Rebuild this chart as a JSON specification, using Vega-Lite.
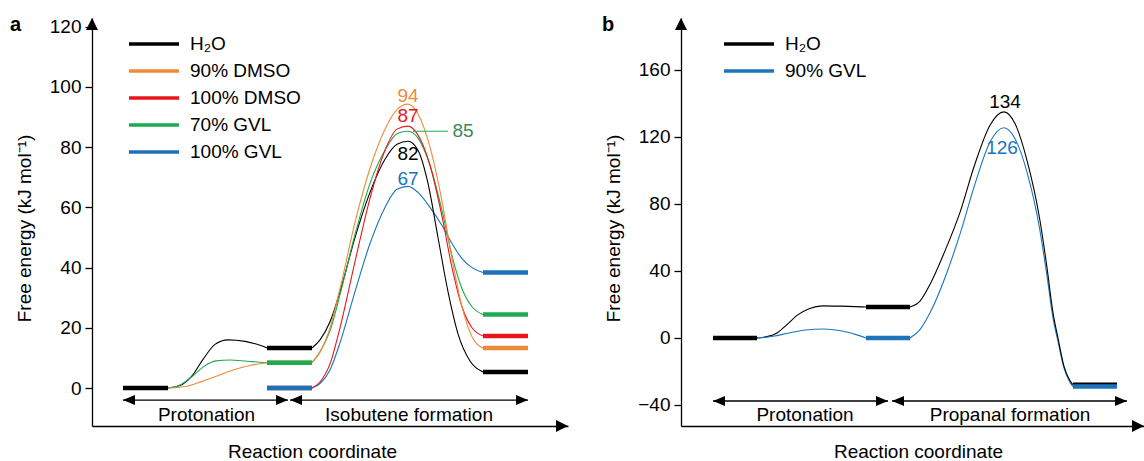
{
  "$schema": "https://vega.github.io/schema/vega-lite/v6.json",
  "padding": {"left": 10, "top": 14, "right": 0, "bottom": 0},
  "background": "white",
  "bounds": "flush",
  "spacing": 113,
  "config": {
    "font": "Liberation Sans",
    "view": {"stroke": null},
    "axis": {"domainColor": "black", "domainWidth": 1.3, "tickColor": "black", "tickWidth": 1.3, "labelColor": "black", "labelFontSize": 19, "labelFont": "Liberation Sans", "titleFont": "Liberation Sans", "titleFontSize": 19, "titleFontWeight": "normal", "titleColor": "black", "grid": false},
    "legend": {"orient": "none", "symbolType": "stroke", "symbolSize": 2500, "symbolStrokeWidth": 3.5, "labelFontSize": 19, "labelFont": "Liberation Sans", "labelColor": "black", "rowPadding": 7, "labelOffset": 9, "padding": 0, "clipHeight": 19},
    "text": {"font": "Liberation Sans", "fontSize": 19}
  },
  "datasets": {
    "curves_a": [
      {"series": "H₂O", "seg": "p", "x": 76, "y": 0}, {"series": "H₂O", "seg": "p", "x": 88, "y": 0.8}, {"series": "H₂O", "seg": "p", "x": 100, "y": 4}, {"series": "H₂O", "seg": "p", "x": 111, "y": 9.5}, {"series": "H₂O", "seg": "p", "x": 123, "y": 14.5}, {"series": "H₂O", "seg": "p", "x": 136, "y": 16}, {"series": "H₂O", "seg": "p", "x": 153, "y": 15.5}, {"series": "H₂O", "seg": "p", "x": 168, "y": 14.2}, {"series": "H₂O", "seg": "p", "x": 175, "y": 13.3},
      {"series": "70% GVL", "seg": "p", "x": 76, "y": 0}, {"series": "70% GVL", "seg": "p", "x": 88, "y": 1}, {"series": "70% GVL", "seg": "p", "x": 100, "y": 3.8}, {"series": "70% GVL", "seg": "p", "x": 112, "y": 7.2}, {"series": "70% GVL", "seg": "p", "x": 124, "y": 9}, {"series": "70% GVL", "seg": "p", "x": 138, "y": 9.3}, {"series": "70% GVL", "seg": "p", "x": 155, "y": 8.9}, {"series": "70% GVL", "seg": "p", "x": 175, "y": 8.4},
      {"series": "90% DMSO", "seg": "p", "x": 76, "y": 0}, {"series": "90% DMSO", "seg": "p", "x": 95, "y": 0.6}, {"series": "90% DMSO", "seg": "p", "x": 110, "y": 2.2}, {"series": "90% DMSO", "seg": "p", "x": 125, "y": 4}, {"series": "90% DMSO", "seg": "p", "x": 141, "y": 6}, {"series": "90% DMSO", "seg": "p", "x": 158, "y": 7.5}, {"series": "90% DMSO", "seg": "p", "x": 175, "y": 8.4},
      {"series": "100% GVL", "seg": "i", "x": 220, "y": 0}, {"series": "100% GVL", "seg": "i", "x": 228, "y": 1.5}, {"series": "100% GVL", "seg": "i", "x": 238, "y": 6}, {"series": "100% GVL", "seg": "i", "x": 248, "y": 15}, {"series": "100% GVL", "seg": "i", "x": 263, "y": 32}, {"series": "100% GVL", "seg": "i", "x": 278, "y": 48}, {"series": "100% GVL", "seg": "i", "x": 293, "y": 60}, {"series": "100% GVL", "seg": "i", "x": 305, "y": 66}, {"series": "100% GVL", "seg": "i", "x": 316, "y": 67}, {"series": "100% GVL", "seg": "i", "x": 326, "y": 65}, {"series": "100% GVL", "seg": "i", "x": 338, "y": 60}, {"series": "100% GVL", "seg": "i", "x": 350, "y": 54}, {"series": "100% GVL", "seg": "i", "x": 360, "y": 48}, {"series": "100% GVL", "seg": "i", "x": 370, "y": 43}, {"series": "100% GVL", "seg": "i", "x": 380, "y": 40}, {"series": "100% GVL", "seg": "i", "x": 391, "y": 38.4},
      {"series": "H₂O", "seg": "i", "x": 220, "y": 13.3}, {"series": "H₂O", "seg": "i", "x": 228, "y": 16}, {"series": "H₂O", "seg": "i", "x": 238, "y": 22}, {"series": "H₂O", "seg": "i", "x": 248, "y": 32}, {"series": "H₂O", "seg": "i", "x": 263, "y": 50}, {"series": "H₂O", "seg": "i", "x": 278, "y": 65}, {"series": "H₂O", "seg": "i", "x": 293, "y": 76}, {"series": "H₂O", "seg": "i", "x": 305, "y": 81}, {"series": "H₂O", "seg": "i", "x": 316, "y": 82}, {"series": "H₂O", "seg": "i", "x": 326, "y": 79}, {"series": "H₂O", "seg": "i", "x": 336, "y": 68}, {"series": "H₂O", "seg": "i", "x": 346, "y": 50}, {"series": "H₂O", "seg": "i", "x": 356, "y": 32}, {"series": "H₂O", "seg": "i", "x": 366, "y": 18}, {"series": "H₂O", "seg": "i", "x": 378, "y": 9}, {"series": "H₂O", "seg": "i", "x": 391, "y": 5.3},
      {"series": "70% GVL", "seg": "i", "x": 220, "y": 8.4}, {"series": "70% GVL", "seg": "i", "x": 228, "y": 12}, {"series": "70% GVL", "seg": "i", "x": 238, "y": 19}, {"series": "70% GVL", "seg": "i", "x": 248, "y": 31}, {"series": "70% GVL", "seg": "i", "x": 263, "y": 51}, {"series": "70% GVL", "seg": "i", "x": 278, "y": 68}, {"series": "70% GVL", "seg": "i", "x": 293, "y": 79}, {"series": "70% GVL", "seg": "i", "x": 305, "y": 84.5}, {"series": "70% GVL", "seg": "i", "x": 316, "y": 85.3}, {"series": "70% GVL", "seg": "i", "x": 326, "y": 83}, {"series": "70% GVL", "seg": "i", "x": 338, "y": 74}, {"series": "70% GVL", "seg": "i", "x": 350, "y": 59}, {"series": "70% GVL", "seg": "i", "x": 360, "y": 44}, {"series": "70% GVL", "seg": "i", "x": 370, "y": 33}, {"series": "70% GVL", "seg": "i", "x": 380, "y": 27}, {"series": "70% GVL", "seg": "i", "x": 391, "y": 24.4},
      {"series": "100% DMSO", "seg": "i", "x": 220, "y": 0}, {"series": "100% DMSO", "seg": "i", "x": 228, "y": 2}, {"series": "100% DMSO", "seg": "i", "x": 238, "y": 8}, {"series": "100% DMSO", "seg": "i", "x": 248, "y": 20}, {"series": "100% DMSO", "seg": "i", "x": 263, "y": 42}, {"series": "100% DMSO", "seg": "i", "x": 278, "y": 63}, {"series": "100% DMSO", "seg": "i", "x": 293, "y": 79}, {"series": "100% DMSO", "seg": "i", "x": 305, "y": 86}, {"series": "100% DMSO", "seg": "i", "x": 316, "y": 87}, {"series": "100% DMSO", "seg": "i", "x": 326, "y": 84}, {"series": "100% DMSO", "seg": "i", "x": 338, "y": 74}, {"series": "100% DMSO", "seg": "i", "x": 350, "y": 57}, {"series": "100% DMSO", "seg": "i", "x": 360, "y": 40}, {"series": "100% DMSO", "seg": "i", "x": 370, "y": 27}, {"series": "100% DMSO", "seg": "i", "x": 380, "y": 20}, {"series": "100% DMSO", "seg": "i", "x": 391, "y": 17.3},
      {"series": "90% DMSO", "seg": "i", "x": 220, "y": 8.4}, {"series": "90% DMSO", "seg": "i", "x": 228, "y": 12}, {"series": "90% DMSO", "seg": "i", "x": 238, "y": 20}, {"series": "90% DMSO", "seg": "i", "x": 248, "y": 33}, {"series": "90% DMSO", "seg": "i", "x": 263, "y": 55}, {"series": "90% DMSO", "seg": "i", "x": 278, "y": 73}, {"series": "90% DMSO", "seg": "i", "x": 293, "y": 86}, {"series": "90% DMSO", "seg": "i", "x": 305, "y": 92.5}, {"series": "90% DMSO", "seg": "i", "x": 316, "y": 94.3}, {"series": "90% DMSO", "seg": "i", "x": 326, "y": 91}, {"series": "90% DMSO", "seg": "i", "x": 338, "y": 80}, {"series": "90% DMSO", "seg": "i", "x": 350, "y": 62}, {"series": "90% DMSO", "seg": "i", "x": 360, "y": 43}, {"series": "90% DMSO", "seg": "i", "x": 370, "y": 27}, {"series": "90% DMSO", "seg": "i", "x": 380, "y": 17}, {"series": "90% DMSO", "seg": "i", "x": 391, "y": 13.3}
    ],
    "bars_a": [
      {"series": "H₂O", "x": 31, "x2": 76, "y": 0},
      {"series": "100% DMSO", "x": 175, "x2": 220, "y": 0},
      {"series": "100% GVL", "x": 175, "x2": 220, "y": 0},
      {"series": "90% DMSO", "x": 175, "x2": 220, "y": 8.4},
      {"series": "70% GVL", "x": 175, "x2": 220, "y": 8.4},
      {"series": "H₂O", "x": 175, "x2": 220, "y": 13.3},
      {"series": "H₂O", "x": 391, "x2": 436, "y": 5.3},
      {"series": "90% DMSO", "x": 391, "x2": 436, "y": 13.3},
      {"series": "100% DMSO", "x": 391, "x2": 436, "y": 17.3},
      {"series": "70% GVL", "x": 391, "x2": 436, "y": 24.4},
      {"series": "100% GVL", "x": 391, "x2": 436, "y": 38.4}
    ],
    "leader_a": [{"series": "70% GVL", "x": 321, "x2": 356, "y": 85.3}],
    "labels_a": [
      {"series": "90% DMSO", "x": 316, "y": 96.9, "text": "94"},
      {"series": "100% DMSO", "x": 316, "y": 90.3, "text": "87"},
      {"series": "70% GVL", "x": 371, "y": 85.3, "text": "85"},
      {"series": "H₂O", "x": 316, "y": 77.6, "text": "82"},
      {"series": "100% GVL", "x": 316, "y": 69.5, "text": "67"}
    ],
    "arrows_a": [{"x": 31, "x2": 196, "y": -4}, {"x": 198, "x2": 436, "y": -4}],
    "heads_a": [
      {"x": 31, "y": -4, "dir": "left"}, {"x": 198, "y": -4, "dir": "left"},
      {"x": 196, "y": -4, "dir": "right"}, {"x": 436, "y": -4, "dir": "right"},
      {"x": 476, "y": -12.62, "dir": "axisright"}, {"x": 0, "y": 122.92, "dir": "up"}
    ],
    "arrowlabels_a": [{"x": 114.5, "y": -10.96, "text": "Protonation"}, {"x": 317, "y": -10.96, "text": "Isobutene formation"}],
    "curves_b": [
      {"series": "H₂O", "seg": "p", "x": 76, "y": 0}, {"series": "H₂O", "seg": "p", "x": 86, "y": 0.8}, {"series": "H₂O", "seg": "p", "x": 96, "y": 3}, {"series": "H₂O", "seg": "p", "x": 106, "y": 8}, {"series": "H₂O", "seg": "p", "x": 116, "y": 13.5}, {"series": "H₂O", "seg": "p", "x": 128, "y": 17.5}, {"series": "H₂O", "seg": "p", "x": 142, "y": 19.2}, {"series": "H₂O", "seg": "p", "x": 160, "y": 19}, {"series": "H₂O", "seg": "p", "x": 185, "y": 18.5},
      {"series": "90% GVL", "seg": "p", "x": 76, "y": 0}, {"series": "90% GVL", "seg": "p", "x": 92, "y": 1}, {"series": "90% GVL", "seg": "p", "x": 108, "y": 3}, {"series": "90% GVL", "seg": "p", "x": 125, "y": 4.8}, {"series": "90% GVL", "seg": "p", "x": 142, "y": 5.4}, {"series": "90% GVL", "seg": "p", "x": 160, "y": 4.3}, {"series": "90% GVL", "seg": "p", "x": 175, "y": 2}, {"series": "90% GVL", "seg": "p", "x": 185, "y": 0},
      {"series": "90% GVL", "seg": "f", "x": 229, "y": 0}, {"series": "90% GVL", "seg": "f", "x": 239, "y": 5}, {"series": "90% GVL", "seg": "f", "x": 249, "y": 15}, {"series": "90% GVL", "seg": "f", "x": 264, "y": 36}, {"series": "90% GVL", "seg": "f", "x": 279, "y": 62}, {"series": "90% GVL", "seg": "f", "x": 294, "y": 92}, {"series": "90% GVL", "seg": "f", "x": 309, "y": 117}, {"series": "90% GVL", "seg": "f", "x": 323, "y": 125.5}, {"series": "90% GVL", "seg": "f", "x": 334, "y": 119}, {"series": "90% GVL", "seg": "f", "x": 346, "y": 99}, {"series": "90% GVL", "seg": "f", "x": 359, "y": 64}, {"series": "90% GVL", "seg": "f", "x": 366, "y": 37}, {"series": "90% GVL", "seg": "f", "x": 372, "y": 12}, {"series": "90% GVL", "seg": "f", "x": 377, "y": -2}, {"series": "90% GVL", "seg": "f", "x": 383, "y": -18}, {"series": "90% GVL", "seg": "f", "x": 389, "y": -26.5}, {"series": "90% GVL", "seg": "f", "x": 392, "y": -29},
      {"series": "H₂O", "seg": "f", "x": 229, "y": 18.5}, {"series": "H₂O", "seg": "f", "x": 239, "y": 22}, {"series": "H₂O", "seg": "f", "x": 249, "y": 32}, {"series": "H₂O", "seg": "f", "x": 264, "y": 52}, {"series": "H₂O", "seg": "f", "x": 279, "y": 75}, {"series": "H₂O", "seg": "f", "x": 294, "y": 104}, {"series": "H₂O", "seg": "f", "x": 309, "y": 127}, {"series": "H₂O", "seg": "f", "x": 323, "y": 135}, {"series": "H₂O", "seg": "f", "x": 334, "y": 128}, {"series": "H₂O", "seg": "f", "x": 346, "y": 106}, {"series": "H₂O", "seg": "f", "x": 359, "y": 70}, {"series": "H₂O", "seg": "f", "x": 366, "y": 42}, {"series": "H₂O", "seg": "f", "x": 372, "y": 15}, {"series": "H₂O", "seg": "f", "x": 377, "y": 0}, {"series": "H₂O", "seg": "f", "x": 383, "y": -17}, {"series": "H₂O", "seg": "f", "x": 389, "y": -25.5}, {"series": "H₂O", "seg": "f", "x": 392, "y": -27.9}
    ],
    "bars_b": [
      {"series": "H₂O", "x": 32, "x2": 76, "y": 0},
      {"series": "90% GVL", "x": 185, "x2": 229, "y": 0},
      {"series": "H₂O", "x": 185, "x2": 229, "y": 18.5},
      {"series": "H₂O", "x": 392, "x2": 436, "y": -27.9},
      {"series": "90% GVL", "x": 392, "x2": 436, "y": -29}
    ],
    "labels_b": [
      {"series": "H₂O", "x": 324, "y": 141, "text": "134"},
      {"series": "90% GVL", "x": 321, "y": 113.3, "text": "126"}
    ],
    "arrows_b": [{"x": 32, "x2": 207, "y": -37.6}, {"x": 211, "x2": 446, "y": -37.6}],
    "heads_b": [
      {"x": 32, "y": -37.6, "dir": "left"}, {"x": 211, "y": -37.6, "dir": "left"},
      {"x": 207, "y": -37.6, "dir": "right"}, {"x": 446, "y": -37.6, "dir": "right"},
      {"x": 463, "y": -52.54, "dir": "axisright"}, {"x": 0, "y": 191.04, "dir": "up"}
    ],
    "arrowlabels_b": [{"x": 124, "y": -49.6, "text": "Protonation"}, {"x": 329, "y": -49.6, "text": "Propanal formation"}]
  },
  "resolve": {"scale": {"color": "independent", "shape": "independent"}},
  "hconcat": [
    {
      "width": 476,
      "height": 408,
      "title": {"text": "a", "anchor": "start", "frame": "group", "dx": -82, "dy": 33, "offset": 0, "fontSize": 20, "fontWeight": "bold", "font": "Liberation Sans", "baseline": "alphabetic", "color": "black"},
      "encoding": {
        "x": {"field": "x", "type": "quantitative", "scale": {"domain": [0, 476], "nice": false, "zero": false}, "axis": {"ticks": false, "labels": false, "title": "Reaction coordinate", "titleX": 220, "titleY": 31, "titleBaseline": "alphabetic", "titleAlign": "center"}},
        "y": {"field": "y", "type": "quantitative", "scale": {"domain": [-12.62, 122.92], "nice": false, "zero": false}, "axis": {"values": [0, 20, 40, 60, 80, 100, 120], "title": "Free energy (kJ mol⁻¹)", "tickSize": 7, "labelPadding": 4, "titleX": -58, "titleY": 210}}
      },
      "layer": [
        {
          "data": {"name": "curves_a"},
          "mark": {"type": "line", "interpolate": "monotone", "strokeWidth": 1.1},
          "encoding": {
            "color": {"field": "series", "type": "nominal", "scale": {"domain": ["H₂O", "90% DMSO", "100% DMSO", "70% GVL", "100% GVL"], "range": ["#000000", "#EF8A3A", "#E8161C", "#1DAA52", "#1C72BA"]}, "legend": {"title": null, "legendX": 35, "legendY": 16.5, "symbolType": "stroke"}},
            "detail": {"field": "seg"}
          }
        },
        {
          "data": {"name": "bars_a"},
          "mark": {"type": "rule", "strokeWidth": 4.5, "strokeCap": "butt"},
          "encoding": {"x2": {"field": "x2"}, "color": {"field": "series", "type": "nominal", "legend": null}}
        },
        {
          "data": {"name": "leader_a"},
          "mark": {"type": "rule", "strokeWidth": 1},
          "encoding": {"x2": {"field": "x2"}, "color": {"field": "series", "type": "nominal", "legend": null}}
        },
        {
          "data": {"name": "labels_a"},
          "mark": {"type": "text", "align": "center", "baseline": "middle", "fontSize": 19},
          "encoding": {"text": {"field": "text"}, "color": {"condition": {"test": "datum.text === '85'", "value": "#3A8A5C"}, "field": "series", "type": "nominal", "legend": null}}
        },
        {
          "data": {"name": "arrows_a"},
          "mark": {"type": "rule", "strokeWidth": 1.3, "color": "black"},
          "encoding": {"x2": {"field": "x2"}}
        },
        {
          "data": {"name": "heads_a"},
          "mark": {"type": "point", "filled": true, "color": "black", "opacity": 1, "size": 196, "strokeWidth": 0},
          "encoding": {"shape": {"field": "dir", "type": "nominal", "scale": {"domain": ["left", "right", "axisright", "up"], "range": ["M0,0L1.71,-0.71L1.71,0.71Z", "M0,0L-1.71,-0.71L-1.71,0.71Z", "M0,0L-1.71,-0.86L-1.71,0.86Z", "M0,0L0.86,1.71L-0.86,1.71Z"]}, "legend": null}}
        },
        {
          "data": {"name": "arrowlabels_a"},
          "mark": {"type": "text", "align": "center", "baseline": "alphabetic", "fontSize": 19, "color": "black"},
          "encoding": {"text": {"field": "text"}}
        }
      ]
    },
    {
      "width": 463,
      "height": 408,
      "title": {"text": "b", "anchor": "start", "frame": "group", "dx": -79, "dy": 33, "offset": 0, "fontSize": 20, "fontWeight": "bold", "font": "Liberation Sans", "baseline": "alphabetic", "color": "black"},
      "encoding": {
        "x": {"field": "x", "type": "quantitative", "scale": {"domain": [0, 463], "nice": false, "zero": false}, "axis": {"ticks": false, "labels": false, "title": "Reaction coordinate", "titleX": 237, "titleY": 31, "titleBaseline": "alphabetic", "titleAlign": "center"}},
        "y": {"field": "y", "type": "quantitative", "scale": {"domain": [-52.54, 191.04], "nice": false, "zero": false}, "axis": {"values": [-40, 0, 40, 80, 120, 160], "title": "Free energy (kJ mol⁻¹)", "tickSize": 7, "labelPadding": 4, "titleX": -58, "titleY": 210}}
      },
      "layer": [
        {
          "data": {"name": "curves_b"},
          "mark": {"type": "line", "interpolate": "monotone", "strokeWidth": 1.1},
          "encoding": {
            "color": {"field": "series", "type": "nominal", "scale": {"domain": ["H₂O", "90% GVL"], "range": ["#000000", "#1C75BC"]}, "legend": {"title": null, "legendX": 41, "legendY": 16.5, "symbolType": "stroke"}},
            "detail": {"field": "seg"}
          }
        },
        {
          "data": {"name": "bars_b"},
          "mark": {"type": "rule", "strokeWidth": 4.5, "strokeCap": "butt"},
          "encoding": {"x2": {"field": "x2"}, "color": {"field": "series", "type": "nominal", "legend": null}}
        },
        {
          "data": {"name": "labels_b"},
          "mark": {"type": "text", "align": "center", "baseline": "middle", "fontSize": 19},
          "encoding": {"text": {"field": "text"}, "color": {"field": "series", "type": "nominal", "legend": null}}
        },
        {
          "data": {"name": "arrows_b"},
          "mark": {"type": "rule", "strokeWidth": 1.3, "color": "black"},
          "encoding": {"x2": {"field": "x2"}}
        },
        {
          "data": {"name": "heads_b"},
          "mark": {"type": "point", "filled": true, "color": "black", "opacity": 1, "size": 196, "strokeWidth": 0},
          "encoding": {"shape": {"field": "dir", "type": "nominal", "scale": {"domain": ["left", "right", "axisright", "up"], "range": ["M0,0L1.71,-0.71L1.71,0.71Z", "M0,0L-1.71,-0.71L-1.71,0.71Z", "M0,0L-1.71,-0.86L-1.71,0.86Z", "M0,0L0.86,1.71L-0.86,1.71Z"]}, "legend": null}}
        },
        {
          "data": {"name": "arrowlabels_b"},
          "mark": {"type": "text", "align": "center", "baseline": "alphabetic", "fontSize": 19, "color": "black"},
          "encoding": {"text": {"field": "text"}}
        }
      ]
    }
  ]
}
